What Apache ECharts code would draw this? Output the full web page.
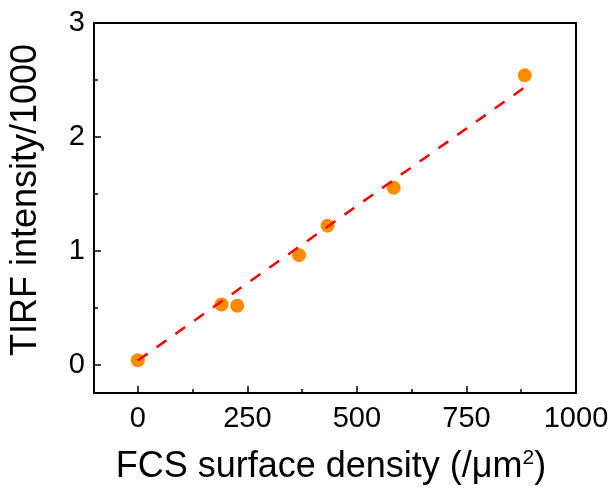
<!DOCTYPE html>
<html>
<head>
<meta charset="utf-8">
<script src="https://cdn.jsdelivr.net/npm/echarts@6/dist/echarts.min.js"></script>
<style>html,body{margin:0;padding:0;background:#fff;}#c{width:614px;height:491px;}</style>
</head>
<body>
<div id="c"></div>
<script>
// data
var densityX = [0, 191, 227, 368, 433, 584, 883];
var intensityY = [0.038, 0.528, 0.517, 0.961, 1.22, 1.553, 2.54];
var fitX = [0, 888];
var fitY = [0.035, 2.448];
var xTicks = [0, 250, 500, 750, 1000];
var xMinorTicks = [125, 375, 625, 875];
var yTicks = [0, 1, 2, 3];
var yMinorTicks = [0.5, 1.5, 2.5];

var FONT = "'Liberation Sans', Arial, sans-serif";
var chart = echarts.init(document.getElementById('c'), null, {renderer: 'canvas'});

function pairs(xs, ys) { return xs.map(function (x, i) { return [x, ys[i]]; }); }
function plain(v) { return String(v); }

var xMin = -100, xMax = 1000, yMin = -0.25, yMax = 3;

chart.setOption({
  animation: false,
  backgroundColor: '#fff',
  grid: {left: 91, right: 38, top: 23, bottom: 98, show: true, borderColor: '#000', borderWidth: 2, backgroundColor: 'transparent'},
  xAxis: [{
    type: 'value', min: xMin, max: xMax, position: 'bottom',
    splitLine: {show: false},
    axisLine: {show: true, onZero: false, lineStyle: {color: '#000', width: 2}},
    axisTick: {show: true, inside: true, length: 7, lineStyle: {color: '#000', width: 1.5}, customValues: xTicks},
    axisLabel: {show: true, margin: 11, color: '#000', fontSize: 29, fontFamily: FONT, customValues: xTicks, formatter: plain},
    name: '{a|FCS surface density (/\u03bcm}{s|2}{a|)}',
    nameLocation: 'middle', nameGap: 55,
    nameTextStyle: {
      padding: [0, 8, 0, 0],
      rich: {
        a: {fontSize: 36, fontFamily: FONT, color: '#000'},
        s: {fontSize: 21, fontFamily: FONT, color: '#000', padding: [0, 0, 17, 0]}
      }
    }
  }, {
    type: 'value', min: xMin, max: xMax, position: 'bottom',
    splitLine: {show: false},
    axisLine: {show: false, onZero: false},
    axisTick: {show: true, inside: true, length: 4, lineStyle: {color: '#000', width: 1.5}, customValues: xMinorTicks},
    axisLabel: {show: false}
  }],
  yAxis: [{
    type: 'value', min: yMin, max: yMax, position: 'left',
    splitLine: {show: false},
    axisLine: {show: true, onZero: false, lineStyle: {color: '#000', width: 2}},
    axisTick: {show: true, inside: true, length: 7, lineStyle: {color: '#000', width: 1.5}, customValues: yTicks},
    axisLabel: {show: true, margin: 9, color: '#000', fontSize: 29, fontFamily: FONT, customValues: yTicks, formatter: plain},
    name: 'TIRF intensity/1000',
    nameLocation: 'middle', nameGap: 50, nameRotate: 90,
    nameTextStyle: {fontSize: 36, fontFamily: FONT, color: '#000', padding: [0, 0, 0, 16]}
  }, {
    type: 'value', min: yMin, max: yMax, position: 'left',
    splitLine: {show: false},
    axisLine: {show: false, onZero: false},
    axisTick: {show: true, inside: true, length: 4, lineStyle: {color: '#000', width: 1.5}, customValues: yMinorTicks},
    axisLabel: {show: false}
  }],
  series: [{
    type: 'line', xAxisIndex: 0, yAxisIndex: 0,
    data: pairs(fitX, fitY),
    showSymbol: false, symbol: 'none',
    lineStyle: {color: '#ff0000', width: 2.5, type: [12, 11]},
    z: 3
  }, {
    type: 'scatter', xAxisIndex: 0, yAxisIndex: 0,
    data: pairs(densityX, intensityY),
    symbol: 'circle', symbolSize: 14,
    itemStyle: {color: '#ff8c00', opacity: 1},
    z: 2
  }]
});
</script>
</body>
</html>
